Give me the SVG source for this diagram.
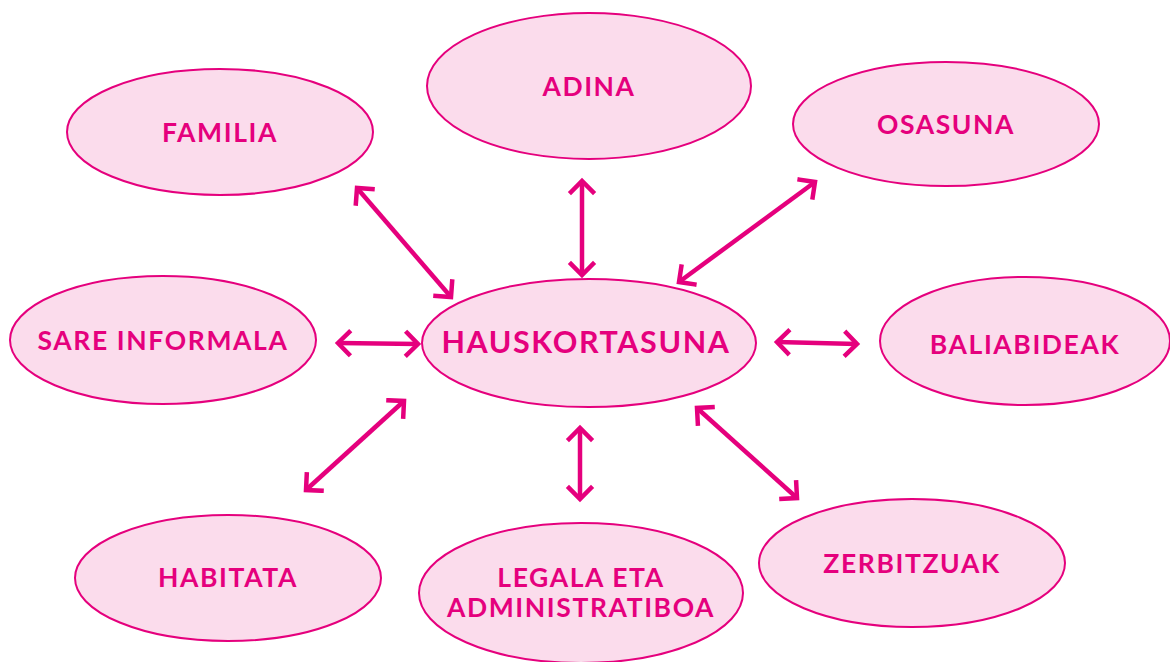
<svg xmlns="http://www.w3.org/2000/svg" width="1170" height="662" viewBox="0 0 1170 662">
<style>
.n ellipse{fill:#fbdcec;stroke:#e5007d;stroke-width:2}
.n text{font-family:"Lato","Open Sans",sans-serif;font-weight:700;fill:#e5007d;font-size:26.5px;text-anchor:middle;dominant-baseline:central;letter-spacing:1.6px}
.c line{stroke:#e5007d;stroke-width:4.5;marker-start:url(#h);marker-end:url(#h)}
</style>
<defs>
<marker id="h" markerUnits="userSpaceOnUse" markerWidth="30" markerHeight="30" refX="15" refY="15" orient="auto-start-reverse" viewBox="0 0 30 30">
<polyline points="4,4 15,15 4,26" fill="none" stroke="#e5007d" stroke-width="4.5" stroke-linecap="square"/>
</marker>
</defs>
<rect width="1170" height="662" fill="#fff"/>
<g class="c">
<line x1="357" y1="188" x2="451" y2="297"/>
<line x1="582" y1="181" x2="582" y2="275"/>
<line x1="815" y1="182" x2="679" y2="282"/>
<line x1="338" y1="343" x2="418" y2="344"/>
<line x1="777" y1="342" x2="857" y2="344"/>
<line x1="404" y1="401" x2="306" y2="490"/>
<line x1="580" y1="428" x2="580" y2="499"/>
<line x1="697" y1="408" x2="797" y2="498"/>
</g>
<g id="familia" class="n"><ellipse cx="220" cy="132" rx="153" ry="63"/><text x="220" y="132">FAMILIA</text></g>
<g id="adina" class="n"><ellipse cx="589" cy="86" rx="162" ry="73"/><text x="589" y="86">ADINA</text></g>
<g id="osasuna" class="n"><ellipse cx="946" cy="124" rx="153" ry="62"/><text x="946" y="124">OSASUNA</text></g>
<g id="sare" class="n"><ellipse cx="163" cy="340" rx="153" ry="64"/><text x="163" y="340">SARE INFORMALA</text></g>
<g id="hauskortasuna" class="n"><ellipse cx="589" cy="343" rx="167" ry="64"/><text x="586" y="341" style="font-size:30.5px">HAUSKORTASUNA</text></g>
<g id="baliabideak" class="n"><ellipse cx="1025" cy="341" rx="145" ry="64"/><text x="1025" y="344">BALIABIDEAK</text></g>
<g id="habitata" class="n"><ellipse cx="228" cy="578" rx="153" ry="63"/><text x="228" y="577">HABITATA</text></g>
<g id="legala" class="n"><ellipse cx="581" cy="593" rx="162" ry="70"/><text x="581" y="577">LEGALA ETA</text><text x="581" y="607">ADMINISTRATIBOA</text></g>
<g id="zerbitzuak" class="n"><ellipse cx="912" cy="563" rx="153" ry="64"/><text x="912" y="563">ZERBITZUAK</text></g>
</svg>
